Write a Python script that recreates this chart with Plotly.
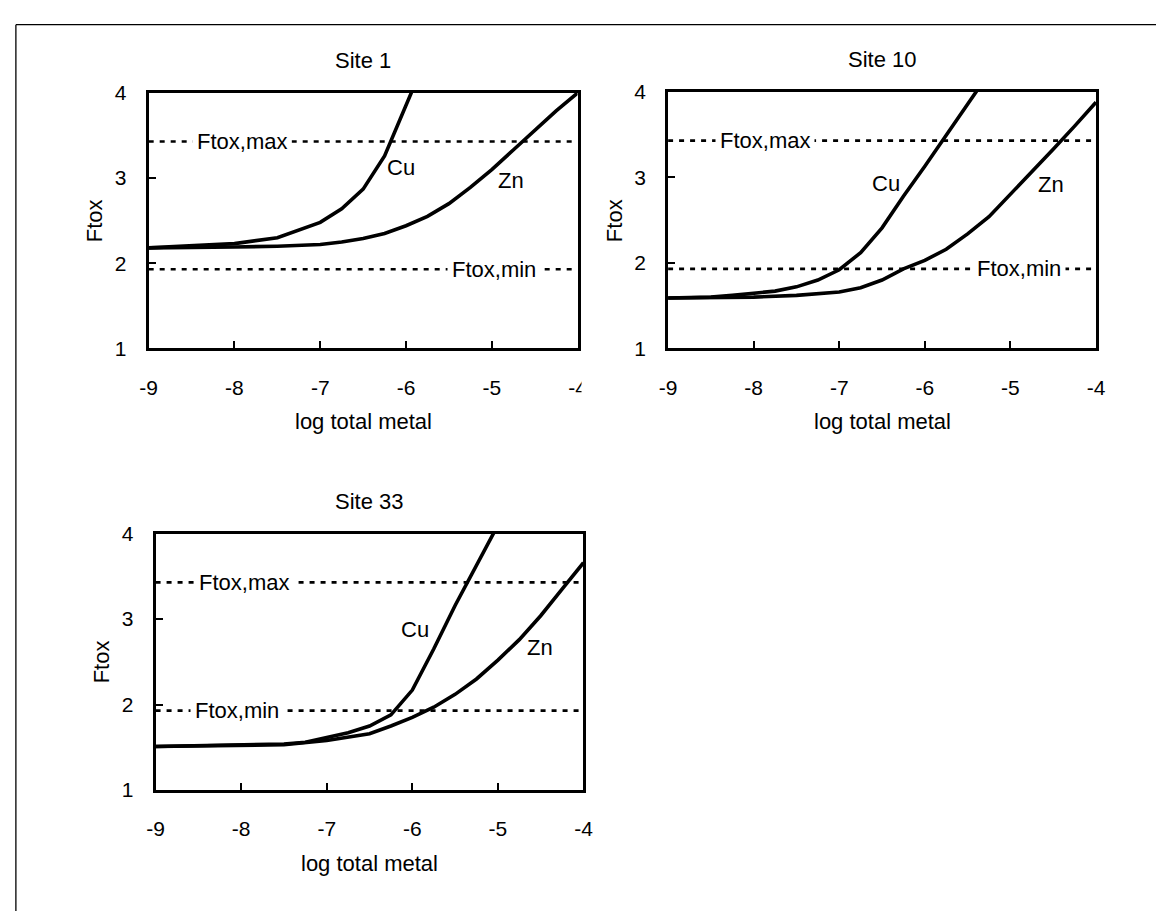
import plotly.graph_objects as go

W, H = 1166, 922
FONT = "Liberation Sans, Arial, sans-serif"

# ---------------- data ----------------
SITE_TITLES = ["Site 1", "Site 10", "Site 33"]
X_TICKS = [-9, -8, -7, -6, -5, -4]
Y_TICKS = [1, 2, 3, 4]
X_LABEL = "log total metal"
Y_LABEL = "Ftox"
FTOX_MAX = 3.43
FTOX_MIN = 1.93

site1_cu_x = [-9, -8.5, -8, -7.5, -7, -6.75, -6.5, -6.25, -6, -5.75]
site1_cu_y = [2.18, 2.20, 2.23, 2.30, 2.48, 2.64, 2.87, 3.26, 3.83, 4.45]
site1_zn_x = [-9, -8.5, -8, -7.5, -7, -6.75, -6.5, -6.25, -6, -5.75, -5.5, -5.25, -5, -4.75, -4.5, -4.25, -4]
site1_zn_y = [2.18, 2.18, 2.19, 2.20, 2.22, 2.25, 2.29, 2.35, 2.44, 2.55, 2.70, 2.89, 3.10, 3.33, 3.56, 3.79, 4.00]

site10_cu_x = [-9, -8.75, -8.5, -8.25, -8, -7.75, -7.5, -7.25, -7, -6.75, -6.5, -6.25, -6, -5.75, -5.5, -5.25]
site10_cu_y = [1.59, 1.59, 1.60, 1.62, 1.64, 1.67, 1.72, 1.80, 1.92, 2.12, 2.41, 2.78, 3.13, 3.50, 3.86, 4.22]
site10_zn_x = [-9, -8.5, -8, -7.5, -7, -6.75, -6.5, -6.25, -6, -5.75, -5.5, -5.25, -5, -4.75, -4.5, -4.25, -4]
site10_zn_y = [1.59, 1.59, 1.60, 1.62, 1.66, 1.71, 1.80, 1.93, 2.03, 2.16, 2.34, 2.54, 2.80, 3.07, 3.33, 3.60, 3.88]

site33_cu_x = [-9, -8.5, -8, -7.5, -7.25, -7, -6.75, -6.5, -6.25, -6, -5.75, -5.5, -5.25, -5]
site33_cu_y = [1.51, 1.52, 1.52, 1.54, 1.56, 1.61, 1.67, 1.75, 1.88, 2.17, 2.65, 3.16, 3.63, 4.10]
site33_zn_x = [-9, -8.5, -8, -7.5, -7, -6.75, -6.5, -6.25, -6, -5.75, -5.5, -5.25, -5, -4.75, -4.5, -4.25, -4]
site33_zn_y = [1.51, 1.52, 1.52, 1.53, 1.58, 1.62, 1.66, 1.75, 1.85, 1.97, 2.12, 2.30, 2.52, 2.76, 3.04, 3.35, 3.66]

CU_X = [site1_cu_x, site10_cu_x, site33_cu_x]
CU_Y = [site1_cu_y, site10_cu_y, site33_cu_y]
ZN_X = [site1_zn_x, site10_zn_x, site33_zn_x]
ZN_Y = [site1_zn_y, site10_zn_y, site33_zn_y]

# ---------------- layout config ----------------
# panel plot-area boxes in window pixels: left, right, top, bottom
PANELS = [(142, 578, 83, 345), (670, 1105, 82, 345), (149, 584, 535, 798)]
# label positions (data coords)
LBL_MAX_X = [-7.91, -7.87, -7.97]
LBL_MIN_X = [-4.97, -4.90, -8.05]
CU_LBL = [(-6.06, 3.12), (-6.45, 2.93), (-5.97, 2.88)]
ZN_LBL = [(-4.78, 2.97), (-4.52, 2.92), (-4.51, 2.67)]

fig = go.Figure()
annotations = []
shapes = []

def px2x(p):
    return p / W

def px2y(p):
    return 1 - p / H

for i in range(3):
    n = "" if i == 0 else str(i + 1)
    xa, ya = "x" + n, "y" + n
    L, R, T, B = PANELS[i]
    for v in (FTOX_MAX, FTOX_MIN):
        fig.add_trace(go.Scatter(x=[-9, -4], y=[v, v], mode="lines", xaxis=xa, yaxis=ya,
                                 line=dict(color="black", width=2.6, dash="5px,6px"),
                                 showlegend=False, hoverinfo="skip"))
    fig.add_trace(go.Scatter(x=CU_X[i], y=CU_Y[i], mode="lines", xaxis=xa, yaxis=ya,
                             line=dict(color="black", width=3.6), showlegend=False))
    fig.add_trace(go.Scatter(x=ZN_X[i], y=ZN_Y[i], mode="lines", xaxis=xa, yaxis=ya,
                             line=dict(color="black", width=3.6), showlegend=False))

    axcommon = dict(showgrid=False, zeroline=False, showline=True, linecolor="black",
                    linewidth=3, mirror=True, ticks="inside", ticklen=7, tickwidth=2,
                    tickcolor="black", tickfont=dict(family=FONT, size=21, color="black"))
    fig.layout["xaxis" + n] = dict(axcommon, domain=[px2x(L), px2x(R)], range=[-9, -4],
                                   tickvals=X_TICKS, ticktext=[str(t) for t in X_TICKS],
                                   anchor=ya, ticklabelstandoff=18)
    fig.layout["yaxis" + n] = dict(axcommon, domain=[px2y(B), px2y(T)], range=[1, 4],
                                   tickvals=Y_TICKS, ticktext=[str(t) for t in Y_TICKS],
                                   anchor=xa, ticklabelstandoff=15)

    tf = dict(family=FONT, size=22, color="black")
    ctr = dict(xanchor="center", yanchor="middle", showarrow=False, font=tf)
    annotations.append(dict(ctr, text=SITE_TITLES[i], x=px2x((L + R) / 2), y=px2y(T - 33),
                            xref="paper", yref="paper"))
    annotations.append(dict(ctr, text=X_LABEL, x=px2x((L + R) / 2), y=px2y(B + 75),
                            xref="paper", yref="paper"))
    annotations.append(dict(ctr, text=Y_LABEL, x=px2x(L - 55), y=px2y((T + B) / 2),
                            xref="paper", yref="paper", textangle=-90))
    annotations.append(dict(ctr, text="Ftox,max", x=LBL_MAX_X[i], y=FTOX_MAX, xref=xa, yref=ya,
                            bgcolor="white", borderpad=4))
    annotations.append(dict(ctr, text="Ftox,min", x=LBL_MIN_X[i], y=FTOX_MIN, xref=xa, yref=ya,
                            bgcolor="white", borderpad=4))
    annotations.append(dict(ctr, text="Cu", x=CU_LBL[i][0], y=CU_LBL[i][1], xref=xa, yref=ya))
    annotations.append(dict(ctr, text="Zn", x=ZN_LBL[i][0], y=ZN_LBL[i][1], xref=xa, yref=ya))

# outer frame (top and left edges)
shapes.append(dict(type="line", xref="paper", yref="paper", x0=px2x(7), y0=px2y(13),
                   x1=1, y1=px2y(13), line=dict(color="black", width=1.3)))
shapes.append(dict(type="line", xref="paper", yref="paper", x0=px2x(7), y0=px2y(13),
                   x1=px2x(7), y1=0, line=dict(color="black", width=1.3)))
# the first chart's last tick label is cut off by the neighbouring chart
shapes.append(dict(type="rect", xref="paper", yref="paper", x0=px2x(582), x1=px2x(602),
                   y0=px2y(400), y1=px2y(362), fillcolor="white", line=dict(width=0),
                   layer="above"))

fig.update_layout(width=W, height=H, margin=dict(l=0, r=0, t=0, b=0),
                  paper_bgcolor="white", plot_bgcolor="white",
                  annotations=annotations, shapes=shapes, showlegend=False,
                  font=dict(family=FONT, color="black"))

fig.write_html("out.html", config={"displayModeBar": False},
               post_script="document.body.style.margin='0';document.body.style.overflow='hidden';")
